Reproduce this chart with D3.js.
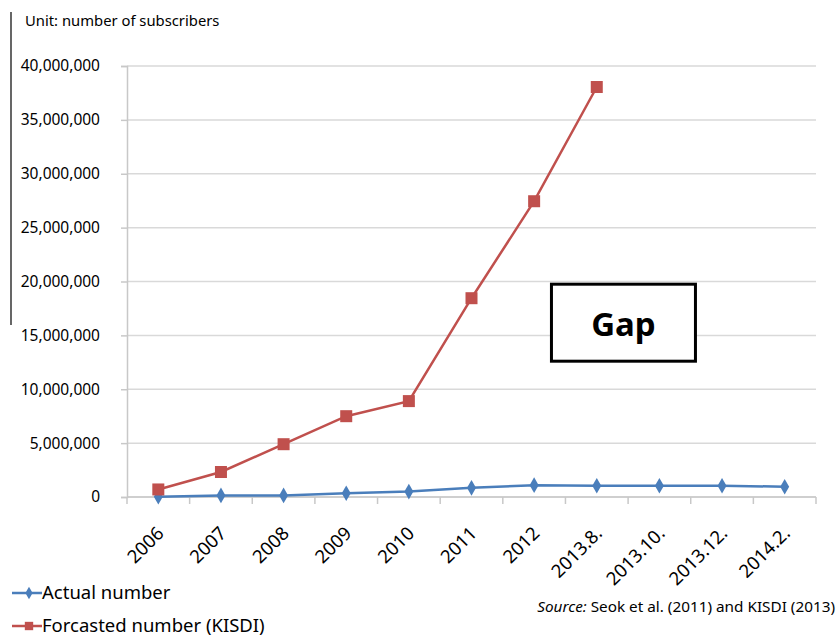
<!DOCTYPE html>
<html>
<head>
<meta charset="utf-8">
<script src="https://cdn.jsdelivr.net/npm/d3@7"></script>
<style>
  body { margin: 0; background: #fff; }
  text { font-family: "Noto Sans", "Open Sans", sans-serif; fill: #000; }
</style>
</head>
<body>
<div id="chart"></div>
<script>
// categories along the x axis
const periods = ["2006", "2007", "2008", "2009", "2010", "2011", "2012", "2013.8.", "2013.10.", "2013.12.", "2014.2."];
// subscribers
const actual = [30000, 150000, 150000, 350000, 500000, 850000, 1100000, 1050000, 1050000, 1050000, 950000];
const forecast = [700000, 2320000, 4900000, 7500000, 8900000, 18450000, 27450000, 38050000, null, null, null];
const yTicks = [0, 5000000, 10000000, 15000000, 20000000, 25000000, 30000000, 35000000, 40000000];

const W = 838, H = 638;
const margin = {top: 66, right: 22, bottom: 141, left: 127},
    width = W - margin.left - margin.right,
    height = H - margin.top - margin.bottom;

const svg = d3.select("#chart")
    .append("svg")
    .attr("width", W)
    .attr("height", H);

const g = svg.append("g")
    .attr("transform", "translate(" + margin.left + "," + margin.top + ")");

const x = d3.scaleBand()
    .domain(periods)
    .range([0, width]);

const y = d3.scaleLinear()
    .domain([0, 40000000])
    .range([height, 0]);

// gridlines
g.append("g")
    .selectAll("line")
    .data(yTicks)
    .join("line")
    .attr("x1", 0)
    .attr("x2", width)
    .attr("y1", d => y(d))
    .attr("y2", d => y(d))
    .attr("stroke", "#d9d9d9")
    .attr("stroke-width", 1.5);

// y axis
const yAxis = g.append("g")
    .call(d3.axisLeft(y).tickValues(yTicks).tickFormat(d3.format(",")).tickSize(6).tickPadding(21));
yAxis.select(".domain").attr("stroke", "#c8c8c8").attr("stroke-width", 1.5);
yAxis.selectAll(".tick line").attr("stroke", "#c8c8c8").attr("stroke-width", 1.5);
yAxis.selectAll("text").style("font-size", "15.5px").attr("fill", "#000");

// x axis, ticks sit between categories
const xAxis = g.append("g")
    .attr("transform", "translate(0," + height + ")");
xAxis.append("line")
    .attr("x1", 0).attr("x2", width)
    .attr("stroke", "#c8c8c8").attr("stroke-width", 1.5);
xAxis.selectAll("line.tk")
    .data(periods.concat(["end"]))
    .join("line")
    .attr("class", "tk")
    .attr("x1", (d, i) => i * x.step())
    .attr("x2", (d, i) => i * x.step())
    .attr("y1", 0)
    .attr("y2", 7)
    .attr("stroke", "#c8c8c8").attr("stroke-width", 1.5);
xAxis.selectAll("text")
    .data(periods)
    .join("text")
    .attr("transform", d => "translate(" + (x(d) + x.bandwidth() / 2 + 2) + ",33) rotate(-45)")
    .attr("text-anchor", "end")
    .attr("dy", "0.35em")
    .style("font-size", "18.5px")
    .text(d => d);

const cx = d => x(d) + x.bandwidth() / 2;

// actual line
const blue = "#4a7ebb", red = "#c0504d";
const lineA = d3.line()
    .x((d, i) => cx(periods[i]))
    .y(d => y(d));
g.append("path")
    .datum(actual)
    .attr("fill", "none")
    .attr("stroke", blue)
    .attr("stroke-width", 2.5)
    .attr("d", lineA);
g.selectAll(".dA")
    .data(actual)
    .join("path")
    .attr("class", "dA")
    .attr("transform", (d, i) => "translate(" + cx(periods[i]) + "," + y(d) + ")")
    .attr("d", d3.symbol(d3.symbolDiamond, 70))
    .attr("fill", blue);

// forecast line
const lineF = d3.line()
    .defined(d => d !== null)
    .x((d, i) => cx(periods[i]))
    .y(d => y(d));
g.append("path")
    .datum(forecast)
    .attr("fill", "none")
    .attr("stroke", red)
    .attr("stroke-width", 2.5)
    .attr("d", lineF);
g.selectAll(".dF")
    .data(forecast.map((v, i) => ({v: v, p: periods[i]})).filter(d => d.v !== null))
    .join("rect")
    .attr("class", "dF")
    .attr("x", d => cx(d.p) - 6)
    .attr("y", d => y(d.v) - 6)
    .attr("width", 12)
    .attr("height", 12)
    .attr("fill", red);

// Gap box
g.append("rect")
    .attr("x", x("2013.8.") - 14)
    .attr("y", y(19750000))
    .attr("width", 144)
    .attr("height", 77)
    .attr("fill", "#fff")
    .attr("stroke", "#000")
    .attr("stroke-width", 3);
g.append("text")
    .attr("x", x("2013.8.") + 58)
    .attr("y", y(19750000) + 40)
    .attr("text-anchor", "middle")
    .attr("dy", "0.35em")
    .style("font-size", "33px")
    .style("font-weight", "bold")
    .text("Gap");

// unit label and left rule
svg.append("line")
    .attr("x1", 11).attr("x2", 11)
    .attr("y1", 12).attr("y2", 325)
    .attr("stroke", "#000").attr("stroke-width", 1.2);
svg.append("text")
    .attr("x", 25)
    .attr("y", 26)
    .style("font-size", "14.8px")
    .text("Unit: number of subscribers");

// legend
const legend = [{name: "Actual number", color: blue, shape: "diamond"},
    {name: "Forcasted number (KISDI)", color: red, shape: "square"}];
const lg = svg.selectAll(".lg")
    .data(legend)
    .join("g")
    .attr("class", "lg")
    .attr("transform", (d, i) => "translate(12," + (593 + i * 33) + ")");
lg.append("line")
    .attr("x1", 0).attr("x2", 30)
    .attr("stroke", d => d.color).attr("stroke-width", 2.5);
lg.append("path")
    .attr("transform", "translate(17,0)")
    .attr("d", d => d.shape === "diamond" ? d3.symbol(d3.symbolDiamond, 45)() : d3.symbol(d3.symbolSquare, 70)())
    .attr("fill", d => d.color);
lg.append("text")
    .attr("x", 30)
    .attr("dy", "0.35em")
    .style("font-size", "18.5px")
    .text(d => d.name);

// source note
const src = svg.append("text")
    .attr("x", 835)
    .attr("y", 612)
    .attr("text-anchor", "end")
    .style("font-size", "15.3px");
src.append("tspan").style("font-style", "italic").text("Source:");
src.append("tspan").text(" Seok et al. (2011) and KISDI (2013)");
</script>
</body>
</html>
